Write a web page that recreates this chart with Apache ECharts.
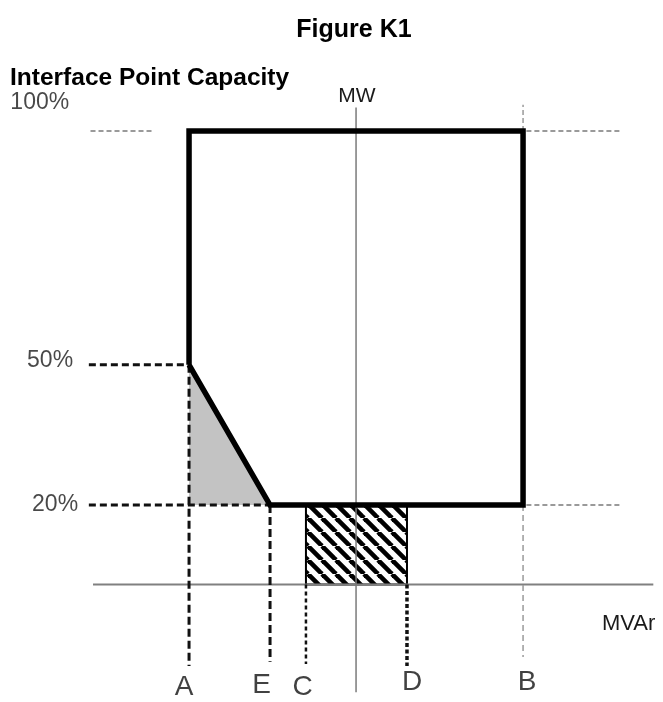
<!DOCTYPE html>
<html><head><meta charset="utf-8">
<script src="https://cdn.jsdelivr.net/npm/echarts@6/dist/echarts.min.js"></script>
<style>html,body{margin:0;padding:0;background:#fff}#c{width:663px;height:702px}</style>
</head><body><div id="c"></div>
<script>
// ---------- data ----------
const capacityLevels = [100, 50, 20];            // % interface point capacity
const percentLabels = ['100%', '50%', '20%'];
const mvarAxisLevel = 3;                          // level where the MVAr axis crosses
const pointNames = ['A', 'E', 'C', 'D', 'B'];
const pointMvar = [-1, -0.515, -0.3, 0.305, 1];   // MVAr position of each point (B = 1)
const mwAxisRange = [-20, 105];
const mvarAxisRange = [-1.575, 1.78];
const dropLineEnd = [-14.4, -13.5, -14, -14.4, -12.5]; // lower ends of drop lines A,E,C,D,B

const P = {}; pointNames.forEach((n, i) => P[n] = pointMvar[i]);
const [L100, L50, L20] = capacityLevels;

// ---------- layout ----------
const FONT = 'Liberation Sans, Arial, sans-serif';
const letterPos = { A: [-1.03, -19.0], E: [-0.565, -18.5], C: [-0.32, -19.0], D: [0.335, -17.8], B: [1.024, -17.8] };
const pctPos = [[-2.07, 106], [-1.97, 50.8], [-1.94, 20.2]];

function seg(points, color, width, type, z) {
  return {
    type: 'line', data: points, symbol: 'none', silent: true, animation: false, z: z || 2,
    lineStyle: { color: color, width: width, type: type || 'solid', cap: 'butt', join: 'miter' }
  };
}

// hatch pattern
const tile = document.createElement('canvas');
const S = 14; tile.width = S; tile.height = S;
const tc = tile.getContext('2d');
tc.fillStyle = '#fff'; tc.fillRect(0, 0, S, S);
tc.strokeStyle = '#000'; tc.lineWidth = 4.6;
for (let k = -1; k <= 1; k++) { tc.beginPath(); tc.moveTo(k * S, 0); tc.lineTo(k * S + S, S); tc.stroke(); }

function poly(points, style, z) {
  return {
    type: 'custom', silent: true, animation: false, z: z || 1, data: [0],
    renderItem: (params, api) => ({ type: 'polygon', shape: { points: points.map(p => api.coord(p)) }, style: style })
  };
}

const grayDash = '#9a9a9a';
const series = [
  // grey triangle
  poly([[P.A, L50], [P.E, L20], [P.A, L20]], { fill: '#c3c3c3' }, 1),
  // hatched rectangle
  poly([[P.C, L20], [P.D, L20], [P.D, mvarAxisLevel], [P.C, mvarAxisLevel]],
       { fill: { image: tile, repeat: 'repeat' }, stroke: '#000', lineWidth: 2 }, 1),
  // axes
  seg([[mvarAxisRange[0], mvarAxisLevel], [mvarAxisRange[1], mvarAxisLevel]], '#808080', 2, 'solid', 2),
  seg([[0, mwAxisRange[0]], [0, mwAxisRange[1]]], '#7a7a7a', 1.5, 'solid', 2),
  // grey dashed guides
  seg([[-1.59, L100], [-1.21, L100]], grayDash, 2, [5, 3]),
  seg([[1.02, L100], [1.59, L100]], grayDash, 2, [5, 3]),
  seg([[1.02, L20], [1.58, L20]], grayDash, 2, [5, 3]),
  seg([[P.B, L100], [P.B, 105.6]], grayDash, 1.5, [5, 3]),
  seg([[P.B, L20], [P.B, dropLineEnd[4]]], grayDash, 1.5, [6, 4]),
  // black dashed guides
  seg([[-1.6, L50], [P.A, L50]], '#111', 3, [7, 4]),
  seg([[-1.6, L20], [P.E, L20]], '#111', 3, [7, 4]),
  seg([[P.A, L50], [P.A, dropLineEnd[0]]], '#111', 3, [8, 4]),
  seg([[P.E, L20], [P.E, dropLineEnd[1]]], '#111', 3, [8, 4]),
  seg([[P.C, mvarAxisLevel], [P.C, dropLineEnd[2]]], '#111', 2.5, [4, 3]),
  seg([[P.D, mvarAxisLevel], [P.D, dropLineEnd[3]]], '#111', 3.5, [4, 2.5]),
  // capability envelope
  seg([[P.A, L50], [P.A, L100], [P.B, L100], [P.B, L20], [P.E, L20], [P.A, L50]], '#000', 5.5, 'solid', 5),
  // point letters
  {
    type: 'scatter', silent: true, animation: false, symbolSize: 0, z: 6,
    data: pointNames.map(n => ({ name: n, value: letterPos[n] })),
    label: { show: true, position: 'inside', formatter: '{b}', fontSize: 28, color: '#111', fontFamily: FONT }
  },
  // percent labels
  {
    type: 'scatter', silent: true, animation: false, symbolSize: 0, z: 6,
    data: percentLabels.map((t, i) => ({ name: t, value: pctPos[i] })),
    label: { show: true, position: 'right', distance: 0, formatter: '{b}', fontSize: 23, color: '#1a1a1a', fontFamily: FONT }
  }
];

const chart = echarts.init(document.getElementById('c'));
chart.setOption({
  animation: false,
  grid: { left: 0, right: 0, top: 0, bottom: 0 },
  xAxis: { type: 'value', min: -2.132, max: 1.838, show: false },
  yAxis: { type: 'value', min: -22.1, max: 128, show: false },
  graphic: [
    { type: 'text', x: 354, y: 30, style: { text: 'Figure K1', font: 'bold 25px ' + FONT, fill: '#000', textAlign: 'center', textVerticalAlign: 'middle' } },
    { type: 'text', x: 10, y: 78, style: { text: 'Interface Point Capacity', font: 'bold 24.5px ' + FONT, fill: '#000', textAlign: 'left', textVerticalAlign: 'middle' } },
    { type: 'text', x: 357, y: 96, style: { text: 'MW', font: '21px ' + FONT, fill: '#1a1a1a', textAlign: 'center', textVerticalAlign: 'middle' } },
    { type: 'text', x: 602, y: 624, style: { text: 'MVAr', font: '22px ' + FONT, fill: '#1a1a1a', textAlign: 'left', textVerticalAlign: 'middle' } }
  ],
  series: series
});
</script></body></html>
